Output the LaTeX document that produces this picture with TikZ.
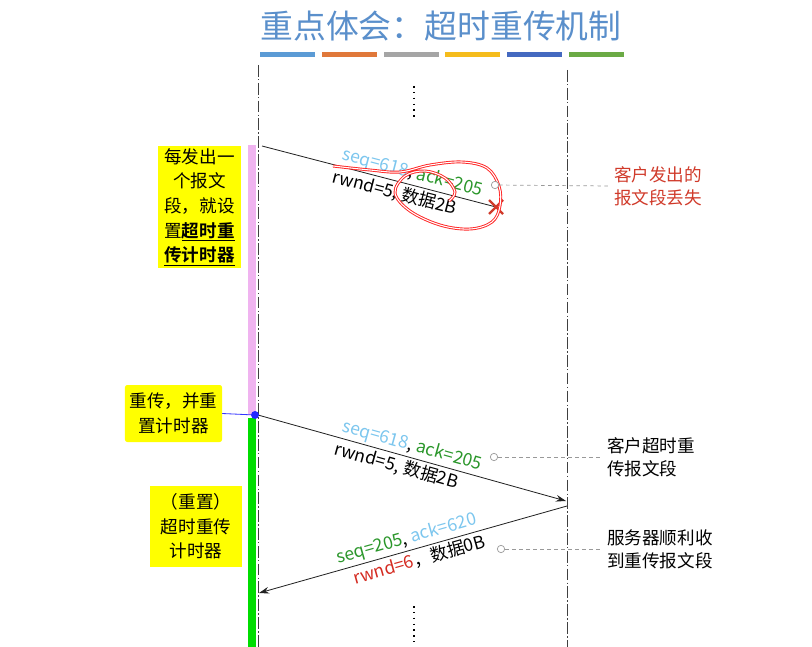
\documentclass[tikz,border=0pt]{standalone}
\usepackage{fontspec}
\setmainfont{Noto Sans CJK SC}[BoldFont={Noto Sans CJK SC Bold}]
\usepackage{xcolor}
\usetikzlibrary{arrows.meta,positioning,calc}
\definecolor{titleblue}{HTML}{5A8FCB}
\definecolor{barblue}{HTML}{5B9BD5}
\definecolor{barorange}{HTML}{E0783A}
\definecolor{bargray}{HTML}{A5A5A5}
\definecolor{bargold}{HTML}{F5BC1C}
\definecolor{bardarkblue}{HTML}{4469C0}
\definecolor{bargreen}{HTML}{6BAA45}
\definecolor{seqblue}{HTML}{7CC6EE}
\definecolor{ackgreen}{HTML}{2A962A}
\definecolor{rwndred}{HTML}{D42A20}
\definecolor{lostred}{HTML}{D03A2A}
\definecolor{markyellow}{HTML}{FFFF00}
\definecolor{timerpink}{HTML}{F0B4F0}
\definecolor{timergreen}{HTML}{00DD00}
\definecolor{ink}{HTML}{222222}
\tikzset{
  lifeline/.style={draw=black!75, line width=0.8pt, dash pattern=on 10pt off 2pt on 1.2pt off 2pt},
  msgarrow/.style={-{Stealth[length=3mm,width=2mm]}, draw=ink, line width=0.7pt},
  lostmsg/.style={draw=ink, line width=0.7pt},
  notebox/.style={fill=markyellow, align=center, inner sep=0pt,
    font=\fontsize{15}{21}\selectfont},
  sidenote/.style={anchor=west, align=left, font=\fontsize{15}{19.5}\selectfont},
  notedash/.style={draw=black!40, dashed, line width=0.6pt},
  notedot/.style={circle, draw=black!40, fill=white, inner sep=0pt,
    minimum size=2.2mm, line width=0.6pt},
  msglabel/.style={font=\fontsize{15}{17}\selectfont, sloped, inner sep=2pt},
  dotrow/.style={draw=black, line width=1.3pt, dash pattern=on 1.3pt off 3.7pt}
}

\begin{document}
\begin{tikzpicture}[x=0.03cm, y=-0.03cm]
  \useasboundingbox (0,0) rectangle (812,647);

  % title and colour bars
  \node[text=titleblue, font=\fontsize{28}{30}\selectfont] (title) at (441,26) {重点体会：超时重传机制};
  \foreach \c [count=\i] in {barblue,barorange,bargray,bargold,bardarkblue,bargreen}
    \fill[\c] ({260+61.8*(\i-1)},52) rectangle +(55,5);

  % lifelines
  \coordinate (cTop) at (258,65);
  \coordinate (cBot) at (258,647);
  \coordinate (sTop) at (567,70);
  \coordinate (sBot) at (567,647);
  \draw[lifeline] (cTop) -- (cBot);
  \draw[lifeline] (sTop) -- (sBot);
  \draw[dotrow] (414,86) -- (414,118);
  \draw[dotrow] (414,606) -- (414,642);

  % timer bars
  \fill[timerpink] (248,145) rectangle (256,415);
  \fill[timergreen] (248,418) rectangle (256,647);

  % lost segment
  \coordinate (m1s) at (262,146);
  \coordinate (m1e) at (496,207);
  \draw[lostmsg] (m1s) -- node[msglabel, above, pos=0.63]{\textcolor{seqblue}{seq=618}, \textcolor{ackgreen}{ack=205}}
    node[msglabel, below, pos=0.58]{rwnd=5, 数据2B} (m1e);
  \draw[lostred, line width=2pt] ($(m1e)+(-7,-7)$) -- ($(m1e)+(7,7)$);
  \draw[lostred, line width=2pt] ($(m1e)+(-7,7)$) -- ($(m1e)+(7,-7)$);
  \draw[red!85, line width=0.8pt, double=white, double distance=0.9pt]
    plot[smooth, tension=0.6] coordinates {(333,166) (370,170) (400,172) (430,165) (462,162)
      (487,168) (499,186) (500,206) (492,222) (470,229) (440,225) (410,211) (395,193)
      (405,176) (425,171) (445,178) (455,192) (449,201)};

  % retransmitted segment
  \coordinate (m2s) at (258,415);
  \coordinate (m2e) at (566,501);
  \draw[msgarrow] (m2s) -- node[msglabel, above, pos=0.49]{\textcolor{seqblue}{seq=618}, \textcolor{ackgreen}{ack=205}}
    node[msglabel, below, pos=0.46]{rwnd=5, 数据2B} (m2e);

  % reply from server
  \coordinate (m3s) at (567,506);
  \coordinate (m3e) at (259,593);
  \draw[msgarrow] (m3s) -- node[msglabel, above, pos=0.51]{\textcolor{ackgreen}{seq=205}, \textcolor{seqblue}{ack=620}}
    node[msglabel, below, pos=0.49]{\textcolor{rwndred}{rwnd=6}，数据0B} (m3e);

  % notes on the client side
  \node[notebox, minimum width=2.49cm, minimum height=3.66cm] (setnote) at (199.5,207)
    {每发出一\\个报文\\段，就设\\置\underline{\textbf{超时重}}\\\underline{\textbf{传计时器}}};
  \node[notebox, rounded corners=2pt, minimum width=2.91cm, minimum height=1.71cm] (resendnote) at (173.5,413.5)
    {重传，并重\\置计时器};
  \node[notebox, minimum width=2.76cm, minimum height=2.43cm] (resetnote) at (196,526.5)
    {（重置）\\超时重传\\计时器};
  \node[circle, fill=blue!85, inner sep=0pt, minimum size=2.4mm] (resendpt) at (255,415) {};
  \draw[blue!80, line width=0.7pt] (resendnote.east) -- (resendpt);

  % notes on the right
  \node[sidenote, text=lostred] (lostnote) at (610,186) {客户发出的\\报文段丢失};
  \node[sidenote] (resendtxt) at (603,457) {客户超时重\\传报文段};
  \node[sidenote] (recvtxt) at (603,549) {服务器顺利收\\到重传报文段};
  \node[notedot] (lostdot) at (495,185) {};
  \node[notedot] (resenddot) at (494,457) {};
  \node[notedot] (recvdot) at (501,549) {};
  \draw[notedash] (lostdot) -- (lostnote.west);
  \draw[notedash] (resenddot) -- (resendtxt.west);
  \draw[notedash] (recvdot) -- (recvtxt.west);
\end{tikzpicture}
\end{document}
